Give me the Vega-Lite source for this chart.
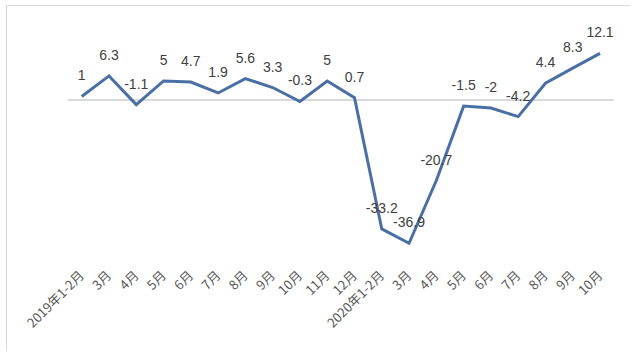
{
  "$schema": "https://vega.github.io/schema/vega-lite/v6.json",
  "width": 624,
  "height": 346,
  "autosize": {"type": "none"},
  "padding": {"left": 6, "top": 5, "right": 0, "bottom": 0},
  "background": "white",
  "config": {"view": {"stroke": "#d9d9d9", "strokeWidth": 1}},
  "data": {"values": [
    {"i": 0, "v": 1},
    {"i": 1, "v": 6.3},
    {"i": 2, "v": -1.1},
    {"i": 3, "v": 5},
    {"i": 4, "v": 4.7},
    {"i": 5, "v": 1.9},
    {"i": 6, "v": 5.6},
    {"i": 7, "v": 3.3},
    {"i": 8, "v": -0.3},
    {"i": 9, "v": 5},
    {"i": 10, "v": 0.7},
    {"i": 11, "v": -33.2},
    {"i": 12, "v": -36.9},
    {"i": 13, "v": -20.7},
    {"i": 14, "v": -1.5},
    {"i": 15, "v": -2},
    {"i": 16, "v": -4.2},
    {"i": 17, "v": 4.4},
    {"i": 18, "v": 8.3},
    {"i": 19, "v": 12.1}
  ]},
  "encoding": {
    "x": {
      "field": "i", "type": "quantitative",
      "scale": {"domain": [-2.775, 20.099], "nice": false, "zero": false},
      "axis": {
        "title": null, "domain": false, "ticks": false, "grid": false,
        "values": [0, 1, 2, 3, 4, 5, 6, 7, 8, 9, 10, 11, 12, 13, 14, 15, 16, 17, 18, 19],
        "offset": -86, "labelAngle": -45, "labelPadding": 8, "labelBaseline": "middle", "labelAlign": "right",
        "labelFlush": false, "labelOverlap": false,
        "labelFont": "Noto Sans CJK SC", "labelFontSize": 13, "labelColor": "#595959",
        "labelExpr": "['2019年1-2月','3月','4月','5月','6月','7月','8月','9月','10月','11月','12月','2020年1-2月','3月','4月','5月','6月','7月','8月','9月','10月'][datum.value]"
      }
    },
    "y": {
      "field": "v", "type": "quantitative",
      "scale": {"domain": [-64.7, 24.6], "nice": false, "zero": false},
      "axis": null
    }
  },
  "layer": [
    {
      "mark": {"type": "rule", "color": "#d9d9d9", "strokeWidth": 1},
      "encoding": {
        "x": {"datum": -0.5},
        "x2": {"datum": 19.5},
        "y": {"datum": 0}
      }
    },
    {
      "mark": {"type": "line", "color": "#4a6fa5", "strokeWidth": 3, "strokeJoin": "miter"}
    },
    {
      "mark": {"type": "text", "dy": -20, "baseline": "middle", "align": "center", "font": "Liberation Sans", "fontSize": 14, "color": "#404040"},
      "encoding": {"text": {"field": "v", "type": "nominal"}}
    }
  ]
}
